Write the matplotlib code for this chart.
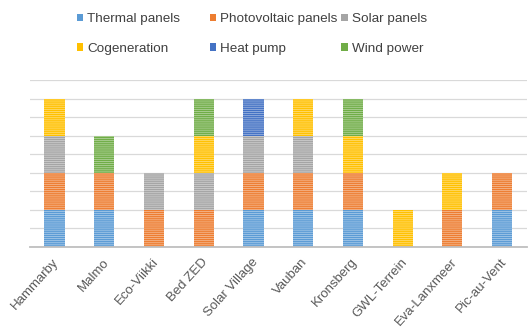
import matplotlib
matplotlib.use("Agg")
import matplotlib.pyplot as plt
from matplotlib.patches import Patch
from matplotlib.transforms import ScaledTranslation
import numpy as np

categories = ["Hammarby", "Malmo", "Eco-Viikki", "Bed ZED", "Solar Village",
              "Vauban", "Kronsberg", "GWL-Terrein", "Eva-Lanxmeer", "Pic-au-Vent"]
series_names = ["Thermal panels", "Photovoltaic panels", "Solar panels",
                "Cogeneration", "Heat pump", "Wind power"]
thermal      = [1, 1, 0, 0, 1, 1, 1, 0, 0, 1]
photovoltaic = [1, 1, 1, 1, 1, 1, 1, 0, 1, 1]
solar        = [1, 0, 1, 1, 1, 1, 0, 0, 0, 0]
cogeneration = [1, 0, 0, 1, 0, 1, 1, 1, 1, 0]
heat_pump    = [0, 0, 0, 0, 1, 0, 0, 0, 0, 0]
wind         = [0, 1, 0, 1, 0, 0, 1, 0, 0, 0]
series_values = [thermal, photovoltaic, solar, cogeneration, heat_pump, wind]
colors = ["#5B9BD5", "#ED7D31", "#A5A5A5", "#FFC000", "#4472C4", "#70AD47"]

plt.rcParams['font.family'] = ['Liberation Sans', 'DejaVu Sans']
plt.rcParams['hatch.linewidth'] = 0.6

W, H = 529, 331
fig = plt.figure(figsize=(W / 100, H / 100), dpi=100)
left, right, top, bottom = 29.6, 527, 80, 246.5
ax = fig.add_axes([left / W, 1 - bottom / H, (right - left) / W, (bottom - top) / H])

x = np.arange(len(categories))
base = np.zeros(len(categories))
for name, vals, c in zip(series_names, series_values, colors):
    v = np.array(vals, dtype=float)
    ax.bar(x, v, bottom=base, width=0.405, color=c, edgecolor=(1, 1, 1, 0.45),
           linewidth=0, hatch='--------', zorder=3)
    base += v

ax.set_xlim(-0.5, len(categories) - 0.5)
ax.set_ylim(0, 4.5)
ax.set_yticks(np.arange(0, 4.51, 0.5))
ax.yaxis.grid(True, color="#D9D9D9", linewidth=0.9, zorder=0)
ax.set_yticklabels([])
ax.tick_params(axis='y', length=0)
for s in ["top", "right", "left"]:
    ax.spines[s].set_visible(False)
ax.spines["bottom"].set_color("#BFBFBF")
ax.spines["bottom"].set_linewidth(1.3)
ax.spines["bottom"].set_zorder(4)

ax.set_xticks(x)
ax.set_xticklabels(categories, rotation=48, ha='right', va='top',
                   rotation_mode='anchor', fontsize=9.5, color="#595959")
ax.tick_params(axis='x', length=0, pad=7)
shift = ScaledTranslation(-2 / 100, 0, fig.dpi_scale_trans)
for lbl in ax.get_xticklabels():
    lbl.set_transform(lbl.get_transform() + shift)

# legend: three columns placed like the original
col_x = [76.5, 209.5, 341]
col_entries = [[0, 3], [1, 4], [2, 5]]
for cx, ents in zip(col_x, col_entries):
    handles = [Patch(facecolor=colors[i], edgecolor='none') for i in ents]
    labels = [series_names[i] for i in ents]
    leg = fig.legend(handles, labels, loc='center left',
                     bbox_to_anchor=(cx / W, 1 - 34 / H),
                     bbox_transform=fig.transFigure, frameon=False,
                     fontsize=9.7, handlelength=0.5, handleheight=0.5,
                     handletextpad=0.3, labelspacing=1.3, borderpad=0,
                     borderaxespad=0)
    for t in leg.get_texts():
        t.set_color("#404040")

fig.savefig("out.png", dpi=100)
